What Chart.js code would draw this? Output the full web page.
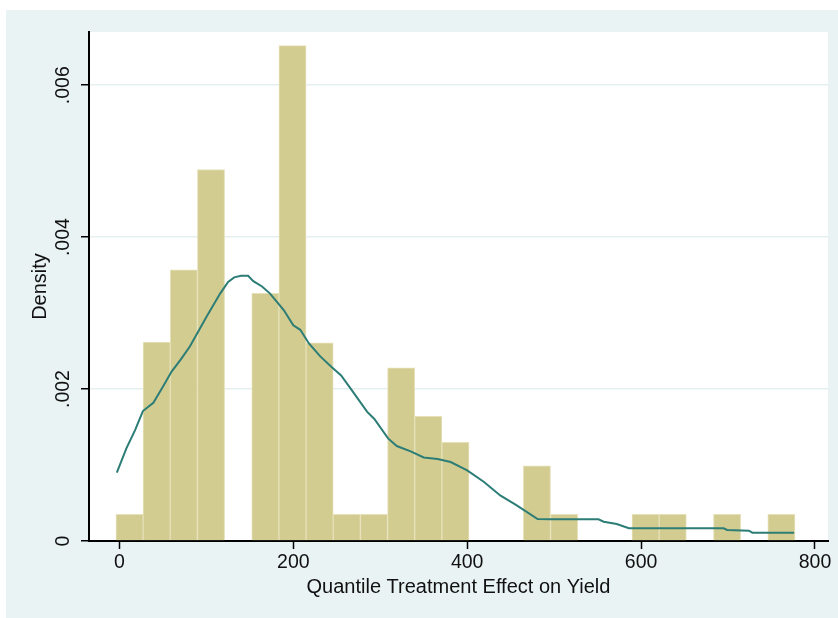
<!DOCTYPE html>
<html>
<head>
<meta charset="utf-8">
<script src="https://cdn.jsdelivr.net/npm/chart.js@4"></script>
<style>
  html, body { margin: 0; padding: 0; background: #fff; }
  #wrap { position: absolute; left: 6px; top: 10px; width: 832px; height: 608px; background: #eaf3f3; }
</style>
</head>
<body>
<div id="wrap"><canvas id="myChart"></canvas></div>
<script>
const ctx = document.getElementById('myChart').getContext('2d');

// Histogram bins (25 equal bins starting at the sample minimum)
const binStart = -4;
const binWidth = 31.24;
const density = [
  0.00035, 0.00262, 0.00357, 0.00489, null,
  0.00326, 0.00652, 0.00261, 0.00035, 0.00035,
  0.00228, 0.00164, 0.0013, null, null,
  0.00099, 0.00035, null, null, 0.00035,
  0.00035, null, 0.00035, null, 0.00035,
];

// Kernel density estimate
const kdeX = [
  -3, 8, 18, 27, 39, 50, 60, 70, 81, 100, 116, 125, 132, 140, 148, 154, 164, 173,
  189, 200, 208, 218, 231, 244, 255, 267, 285, 293, 309, 319, 335, 350, 366, 381,
  400, 419, 438, 457, 481, 496, 551, 557, 572, 586, 695, 699, 724, 728, 776,
];
const kdeY = [
  0.0009, 0.00122, 0.00146, 0.00171, 0.00182, 0.00203, 0.00223, 0.00238, 0.00256,
  0.00295, 0.00326, 0.00341, 0.00347, 0.00349, 0.00349, 0.00342, 0.00335, 0.00326,
  0.00304, 0.00284, 0.00278, 0.0026, 0.00243, 0.00229, 0.00218, 0.00199, 0.0017,
  0.00161, 0.00135, 0.00125, 0.00118, 0.0011, 0.00108, 0.00104,
  0.00093, 0.00078, 0.0006, 0.00047, 0.00029, 0.000286, 0.000286, 0.000254, 0.000224,
  0.000167, 0.000167, 0.000145, 0.000136, 0.00011, 0.00011,
];

const xTicks = [0, 200, 400, 600, 800];
const xTickLabels = ['0', '200', '400', '600', '800'];
const yTicks = [0, 0.002, 0.004, 0.006];
const yTickLabels = ['0', '.002', '.004', '.006'];

const bars = density.map((d, i) => ({ x: binStart + binWidth * (i + 0.5), y: d }));
const kde = kdeX.map((x, i) => ({ x, y: kdeY[i] }));

// white plot region
const plotBg = {
  id: 'plotBg',
  beforeDraw(chart) {
    const { ctx, chartArea: a } = chart;
    ctx.save();
    ctx.fillStyle = '#fff';
    ctx.fillRect(a.left, a.top, a.right - a.left, a.bottom - a.top);
    ctx.restore();
  },
};

Chart.defaults.font.family = '"Liberation Sans", Arial, Helvetica, sans-serif';
Chart.defaults.font.size = 19.5;
Chart.defaults.color = '#111';

const config = {
  type: 'bar',
  data: {
    datasets: [
      {
        type: 'line',
        data: kde,
        borderColor: '#2c7d76',
        borderWidth: 2,
        pointRadius: 0,
        tension: 0,
        order: 0,
      },
      {
        data: bars,
        backgroundColor: '#d3cc91',
        borderColor: '#e6e1b9',
        borderWidth: 1,
        barPercentage: 1,
        categoryPercentage: 1,
        order: 1,
      },
    ],
  },
  options: {
    responsive: true,
    maintainAspectRatio: false,
    animation: false,
    layout: { padding: { top: 22, right: 10, bottom: 0, left: 0 } },
    plugins: { legend: { display: false }, tooltip: { enabled: false } },
    scales: {
      x: {
        type: 'linear',
        min: -35,
        max: 815,
        offset: false,
        afterFit: (s) => { s.height = 77; },
        afterBuildTicks: (s) => { s.ticks = xTicks.map((v) => ({ value: v })); },
        ticks: {
          padding: 2,
          maxRotation: 0,
          callback: (v, i) => xTickLabels[i],
        },
        grid: {
          offset: false,
          drawOnChartArea: false,
          tickLength: 8,
          tickColor: '#000',
          tickWidth: 1.5,
        },
        border: { display: true, color: '#000', width: 2 },
        title: {
          display: true,
          text: 'Quantile Treatment Effect on Yield',
          font: { size: 20 },
          padding: { top: 0, bottom: 18.5 },
        },
      },
      y: {
        min: 0,
        max: 0.0067,
        afterFit: (s) => { s.width = 83; },
        afterBuildTicks: (s) => { s.ticks = yTicks.map((v) => ({ value: v })); },
        ticks: {
          padding: -1.5,
          minRotation: 90,
          maxRotation: 90,
          crossAlign: 'center',
          callback: (v, i) => yTickLabels[i],
        },
        grid: {
          color: '#e6efef',
          lineWidth: 1.5,
          tickLength: 8,
          tickColor: '#000',
          tickWidth: 1.5,
        },
        border: { display: true, color: '#000', width: 2 },
        title: {
          display: true,
          text: 'Density',
          font: { size: 20 },
          padding: { top: 22, bottom: 0 },
        },
      },
    },
  },
  plugins: [plotBg],
};

const myChart = new Chart(ctx, config);
</script>
</body>
</html>
